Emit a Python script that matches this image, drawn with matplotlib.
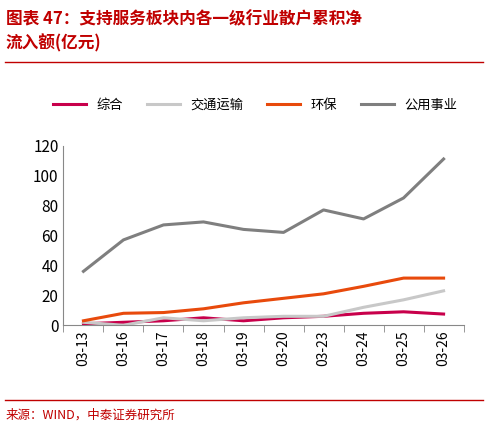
import matplotlib
matplotlib.use("Agg")
import matplotlib.pyplot as plt

plt.rcParams['font.family'] = ['Noto Sans CJK SC', 'DejaVu Sans']

dates = ["03-13","03-16","03-17","03-18","03-19","03-20","03-23","03-24","03-25","03-26"]
zonghe = [1, 2, 3, 5, 3, 5, 6, 8, 9, 7.5]
jiaotong = [2, 0, 5, 3, 5, 6, 6, 12, 17, 23]
huanbao = [3, 8, 8.5, 11, 15, 18, 21, 26, 31.5, 31.5]
gongyong = [36, 57, 67, 69, 64, 62, 77, 71, 85, 111]

fig = plt.figure(figsize=(4.88, 4.28), dpi=100)
fig.text(0.012, 0.975, "图表 47：支持服务板块内各一级行业散户累积净\n流入额(亿元)", color="#C00000",
         fontsize=12, fontweight="bold", style="italic", va="top", linespacing=1.4)
fig.add_artist(plt.Line2D([0.01, 0.99], [0.855, 0.855], color="#C00000", lw=1))
fig.text(0.012, 0.022, "来源：WIND，中泰证券研究所", color="#C00000", fontsize=9)
fig.add_artist(plt.Line2D([0.01, 0.99], [0.065, 0.065], color="#C00000", lw=1))

ax = fig.add_axes([0.13, 0.24, 0.82, 0.42])
x = range(len(dates))
ax.plot(x, zonghe, color="#C8004B", lw=2.2, label="综合")
ax.plot(x, jiaotong, color="#C8C8C8", lw=2.2, label="交通运输")
ax.plot(x, huanbao, color="#E84A0C", lw=2.2, label="环保")
ax.plot(x, gongyong, color="#7F7F7F", lw=2.2, label="公用事业")
ax.set_ylim(0, 120)
ax.set_yticks(range(0, 121, 20))
ax.set_xlim(-0.5, len(dates) - 0.5)
ax.set_xticks(list(x))
ax.set_xticklabels(dates, rotation=90, fontsize=10)
ax.tick_params(axis='y', labelsize=11, length=0)
ax.tick_params(axis='x', direction='out', length=5)
ax.set_xticks([i - 0.5 for i in range(len(dates) + 1)], minor=True)
ax.tick_params(axis='x', which='major', length=0)
ax.tick_params(axis='x', which='minor', length=5, color="#888888")
for s in ["top", "right"]:
    ax.spines[s].set_visible(False)
for s in ["left", "bottom"]:
    ax.spines[s].set_color("#888888")
ax.legend(loc="lower center", bbox_to_anchor=(0.48, 1.12), ncol=4, frameon=False,
          fontsize=9.5, handlelength=2.5, columnspacing=1.8)
fig.savefig("out.png", dpi=100)
